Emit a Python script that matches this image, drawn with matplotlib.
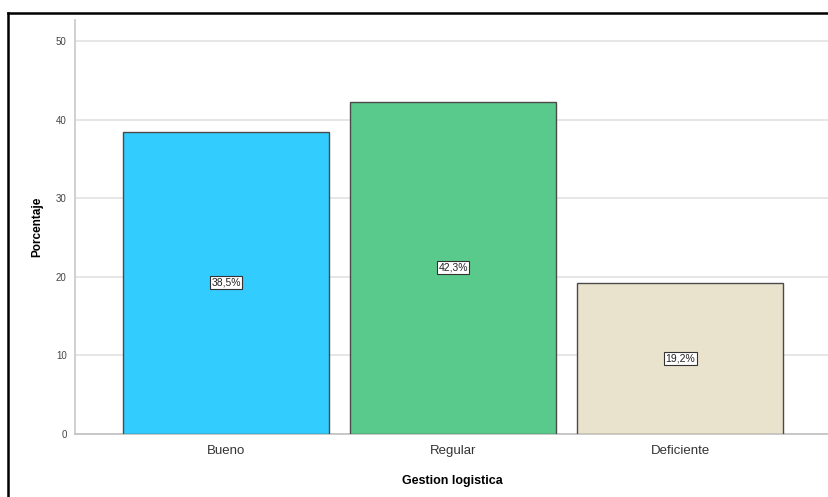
import matplotlib
matplotlib.use('Agg')
import matplotlib.pyplot as plt
from matplotlib.lines import Line2D

# Gestion logistica - porcentajes
categorias = ['Bueno', 'Regular', 'Deficiente']
porcentajes = [38.5, 42.3, 19.2]
etiquetas = ['38,5%', '42,3%', '19,2%']
colores = ['#33ccff', '#5ac98c', '#e9e2cd']
yticks = [0, 10, 20, 30, 40, 50]

plt.rcParams['font.family'] = ['Liberation Sans', 'DejaVu Sans']

fig = plt.figure(figsize=(8.29, 4.97), dpi=100)
ax = fig.add_axes([0.0905, 0.1268, 0.9095, 0.833])

x = list(range(len(categorias)))
ax.bar(x, porcentajes, width=0.906, color=colores, edgecolor='#4a4a4a',
       linewidth=1.0, zorder=3)

for xi, val, lab in zip(x, porcentajes, etiquetas):
    ax.text(xi, val / 2, lab, ha='center', va='center', fontsize=7.5,
            color='#222222', zorder=4,
            bbox=dict(boxstyle='square,pad=0.15', fc='white', ec='#333333', lw=0.8))

ax.set_xlim(-0.665, 2.655)
ax.set_ylim(0, 52.7)
ax.set_yticks(yticks)
ax.set_xticks(x)
ax.set_xticklabels(categorias, fontsize=9.5, color='#333333')
ax.tick_params(axis='y', length=0, pad=6, labelsize=7, labelcolor='#444444')
ax.tick_params(axis='x', length=0, pad=8)

ax.grid(axis='y', color='#e2e2e2', linewidth=1.2, zorder=0)
for s in ['top', 'right']:
    ax.spines[s].set_visible(False)
ax.spines['left'].set_color('#c8c8c8')
ax.spines['left'].set_linewidth(1.2)
ax.spines['bottom'].set_color('#c0c0c0')
ax.spines['bottom'].set_linewidth(1.2)

ax.set_xlabel('Gestion logistica', fontsize=9, fontweight='bold', labelpad=13)
ax.set_ylabel('Porcentaje', fontsize=8.5, fontweight='bold', labelpad=9)

# marco negro (recortado)
fig.add_artist(Line2D([8.5 / 829, 1.0], [1 - 12.5 / 497, 1 - 12.5 / 497],
                      transform=fig.transFigure, color='black', lw=1.8))
fig.add_artist(Line2D([8.5 / 829, 8.5 / 829], [0, 1 - 12.5 / 497],
                      transform=fig.transFigure, color='black', lw=1.8))

fig.savefig('out.png', dpi=100)
